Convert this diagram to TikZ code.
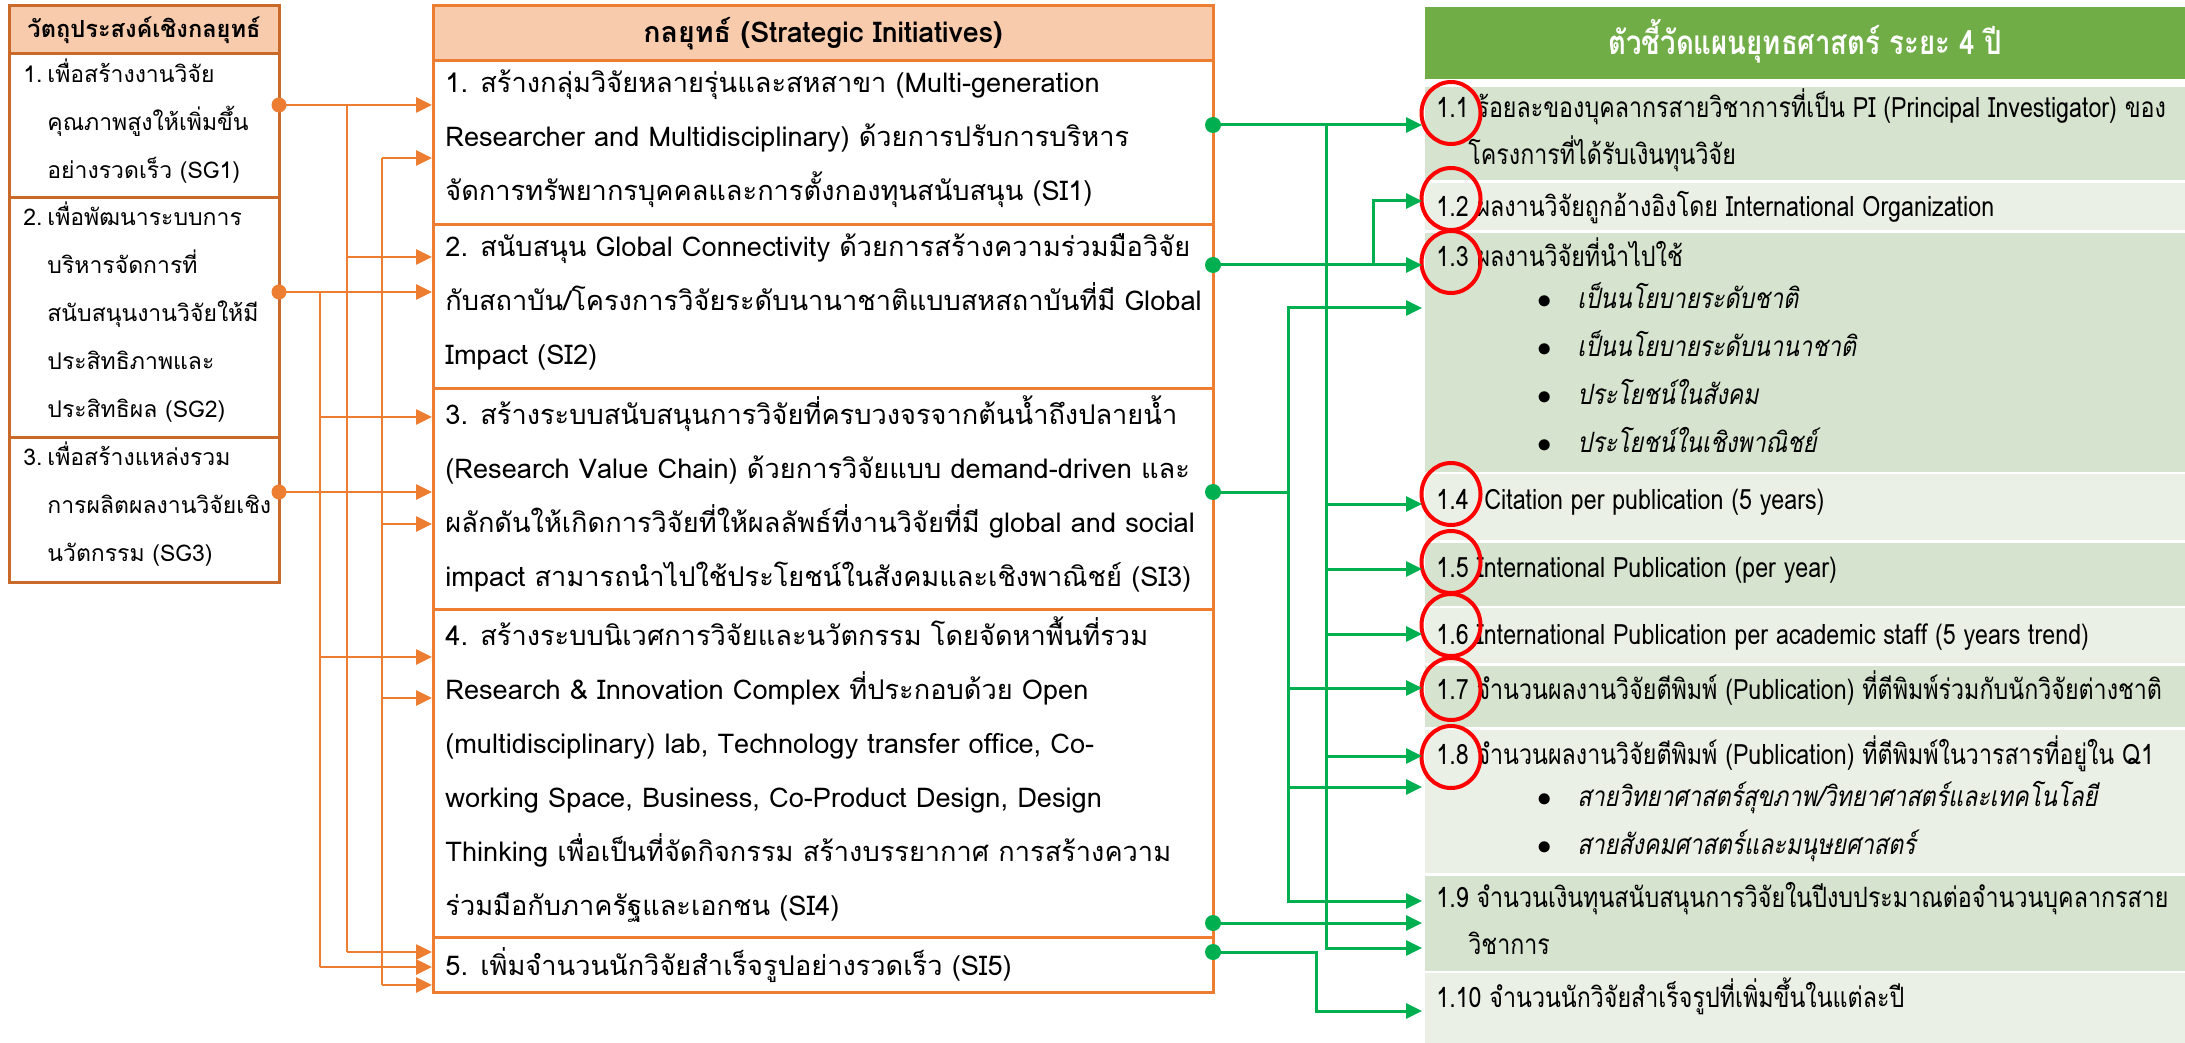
\documentclass[tikz,border=0pt]{standalone}
\usepackage{fontspec}
\setmainfont[Script=Thai]{Loma}
\newfontfamily\kpifont[Script=Thai,FakeStretch=0.83]{Loma}
\newfontfamily\kpiit[Script=Thai,FakeStretch=0.83,FakeSlant=0.2]{Loma}
\usetikzlibrary{shapes,positioning,calc,fit,arrows.meta}
\definecolor{orangeline}{HTML}{ED7D31}
\definecolor{orangefill}{HTML}{F8CBAD}
\definecolor{greenhead}{HTML}{70AD47}
\definecolor{greendark}{HTML}{D6E3CE}
\definecolor{greenlight}{HTML}{EAF0E6}
\definecolor{greenline}{HTML}{00B050}
\newcommand{\nxl}{\\\strut}
\newcommand{\sgnum}[1]{\makebox[12pt][l]{#1}}
\newcommand{\kdot}{\makebox[20pt][l]{$\bullet$}}

\begin{document}
\begin{tikzpicture}[x=0.5pt,y=-0.5pt,
      sgcell/.style = {draw=orangeline!85!black, line width=1.5pt, inner sep=0pt},
      sghd/.style = {sgcell, fill=orangefill},
      sicell/.style = {draw=orangeline, line width=1.5pt, inner sep=0pt},
      sihd/.style = {sicell, fill=orangefill},
      kcell/.style = {inner sep=0pt},
      sgtext/.style = {anchor=west, align=left, inner sep=0pt,
        font=\fontsize{11.5}{24}\selectfont, execute at begin node=\strut},
      sitext/.style = {anchor=west, align=left, inner sep=0pt,
        font=\fontsize{13.6}{27}\selectfont, execute at begin node=\strut},
      ktext/.style = {anchor=west, align=left, inner sep=0pt,
        font=\kpifont\fontsize{14}{23.5}\selectfont, execute at begin node=\strut},
      kbullet/.style = {ktext, font=\kpiit\fontsize{14}{24}\selectfont},
      ring/.style = {ellipse, draw=red, line width=2pt, minimum width=29.5pt,
        minimum height=31pt, inner sep=0pt},
      odot/.style = {circle, fill=orangeline, inner sep=0pt, minimum size=7.5pt},
      gdot/.style = {circle, fill=greenline, inner sep=0pt, minimum size=8pt},
      olink/.style = {draw=orangeline, line width=1.3pt, -{Triangle[length=8pt,width=7.5pt]}},
      obus/.style = {draw=orangeline, line width=0.9pt},
      glink/.style = {draw=greenline, line width=1.5pt, -{Triangle[length=8pt,width=7.5pt]}},
      gline/.style = {draw=greenline, line width=1.5pt}
      ]
      \useasboundingbox (0,0) rectangle (2185,1043);

      \node[sghd, fit={(9,6) (279,54)}] (sgh) {};
      \node[sgcell, fit={(9,54) (279,198)}] (sg1) {};
      \node[sgcell, fit={(9,198) (279,437)}] (sg2) {};
      \node[sgcell, fit={(9,437) (279,582)}] (sg3) {};
      \node[font=\bfseries\fontsize{11.8}{14}\selectfont] (sght) at (sgh) {วัตถุประสงค์เชิงกลยุทธ์};
      \node[sgtext] (sg1t) at (23,126) {\sgnum{1.}เพื่อสร้างงานวิจัย\nxl\hspace*{12pt}คุณภาพสูงให้เพิ่มขึ้น\nxl\hspace*{12pt}อย่างรวดเร็ว (SG1)};
      \node[sgtext] (sg2t) at (23,317) {\sgnum{2.}เพื่อพัฒนาระบบการ\nxl\hspace*{12pt}บริหารจัดการที่\nxl\hspace*{12pt}สนับสนุนงานวิจัยให้มี\nxl\hspace*{12pt}ประสิทธิภาพและ\nxl\hspace*{12pt}ประสิทธิผล (SG2)};
      \node[sgtext] (sg3t) at (23,509) {\sgnum{3.}เพื่อสร้างแหล่งรวม\nxl\hspace*{12pt}การผลิตผลงานวิจัยเชิง\nxl\hspace*{12pt}นวัตกรรม (SG3)};

      \node[sihd, fit={(433,6) (1213,61)}] (sih) {};
      \node[sicell, fit={(433,61) (1213,225)}] (si1) {};
      \node[sicell, fit={(433,225) (1213,388)}] (si2) {};
      \node[sicell, fit={(433,388) (1213,609)}] (si3) {};
      \node[sicell, fit={(433,609) (1213,937)}] (si4) {};
      \node[sicell, fit={(433,937) (1213,992)}] (si5) {};
      \node[font=\bfseries\fontsize{14.3}{16}\selectfont] (siht) at (sih) {กลยุทธ์ (Strategic Initiatives)};
      \node[sitext] (si1t) at (445,143.5) {1. สร้างกลุ่มวิจัยหลายรุ่นและสหสาขา (Multi-generation\nxl Researcher and Multidisciplinary) ด้วยการปรับการบริหาร\nxl จัดการทรัพยากรบุคคลและการตั้งกองทุนสนับสนุน (SI1)};
      \node[sitext] (si2t) at (445,307.5) {2. สนับสนุน Global Connectivity ด้วยการสร้างความร่วมมือวิจัย\nxl กับสถาบัน/โครงการวิจัยระดับนานาชาติแบบสหสถาบันที่มี Global\nxl Impact (SI2)};
      \node[sitext] (si3t) at (445,499) {3. สร้างระบบสนับสนุนการวิจัยที่ครบวงจรจากต้นน้ำถึงปลายน้ำ\nxl (Research Value Chain) ด้วยการวิจัยแบบ demand-driven และ\nxl ผลักดันให้เกิดการวิจัยที่ให้ผลลัพธ์ที่งานวิจัยที่มี global and social\nxl impact สามารถนำไปใช้ประโยชน์ในสังคมและเชิงพาณิชย์ (SI3)};
      \node[sitext] (si4t) at (445,774) {4. สร้างระบบนิเวศการวิจัยและนวัตกรรม โดยจัดหาพื้นที่รวม\nxl Research \& Innovation Complex ที่ประกอบด้วย Open\nxl (multidisciplinary) lab, Technology transfer office, Co-\nxl working Space, Business, Co-Product Design, Design\nxl Thinking เพื่อเป็นที่จัดกิจกรรม สร้างบรรยากาศ การสร้างความ\nxl ร่วมมือกับภาครัฐและเอกชน (SI4)};
      \node[sitext] (si5t) at (445,965) {5. เพิ่มจำนวนนักวิจัยสำเร็จรูปอย่างรวดเร็ว (SI5)};

      \node[kcell, fill=greenhead, fit={(1425,7) (2185,79)}] (kh) {};
      \node[kcell, fill=greendark, fit={(1425,87) (2185,180)}] (k11) {};
      \node[kcell, fill=greenlight, fit={(1425,183) (2185,230)}] (k12) {};
      \node[kcell, fill=greendark, fit={(1425,233) (2185,472)}] (k13) {};
      \node[kcell, fill=greenlight, fit={(1425,474) (2185,540)}] (k14) {};
      \node[kcell, fill=greendark, fit={(1425,543) (2185,606)}] (k15) {};
      \node[kcell, fill=greenlight, fit={(1425,608) (2185,663)}] (k16) {};
      \node[kcell, fill=greendark, fit={(1425,666) (2185,727)}] (k17) {};
      \node[kcell, fill=greenlight, fit={(1425,730) (2185,873)}] (k18) {};
      \node[kcell, fill=greendark, fit={(1425,876) (2185,971)}] (k19) {};
      \node[kcell, fill=greenlight, fit={(1425,973) (2185,1043)}] (k110) {};
      \node[text=white, font=\kpifont\bfseries\fontsize{16.6}{20}\selectfont] (kht) at (1805,41) {ตัวชี้วัดแผนยุทธศาสตร์ ระยะ 4 ปี};
      \node[ktext] (k11t) at (1436,133.5) {1.1 ร้อยละของบุคลากรสายวิชาการที่เป็น PI (Principal Investigator) ของ\nxl\hspace*{16pt}โครงการที่ได้รับเงินทุนวิจัย};
      \node[ktext] (k12t) at (1436,207) {1.2 ผลงานวิจัยถูกอ้างอิงโดย International Organization};
      \node[ktext] (k13t) at (1436,257) {1.3 ผลงานวิจัยที่นำไปใช้};
      \node[kbullet] (k13b) at (1537,375) {\kdot เป็นนโยบายระดับชาติ\nxl\kdot เป็นนโยบายระดับนานาชาติ\nxl\kdot ประโยชน์ในสังคม\nxl\kdot ประโยชน์ในเชิงพาณิชย์};
      \node[ktext] (k14t) at (1436,500) {1.4~ Citation per publication (5 years)};
      \node[ktext] (k15t) at (1436,568) {1.5 International Publication (per year)};
      \node[ktext] (k16t) at (1436,635) {1.6 International Publication per academic staff (5 years trend)};
      \node[ktext] (k17t) at (1436,690) {1.7 จำนวนผลงานวิจัยตีพิมพ์ (Publication) ที่ตีพิมพ์ร่วมกับนักวิจัยต่างชาติ};
      \node[ktext] (k18t) at (1436,755) {1.8 จำนวนผลงานวิจัยตีพิมพ์ (Publication) ที่ตีพิมพ์ในวารสารที่อยู่ใน Q1};
      \node[kbullet] (k18b) at (1537,825.5) {\kdot สายวิทยาศาสตร์สุขภาพ/วิทยาศาสตร์และเทคโนโลยี\nxl\kdot สายสังคมศาสตร์และมนุษยศาสตร์};
      \node[ktext] (k19t) at (1436,925) {1.9 จำนวนเงินทุนสนับสนุนการวิจัยในปีงบประมาณต่อจำนวนบุคลากรสาย\nxl\hspace*{16pt}วิชาการ};
      \node[ktext] (k110t) at (1436,998) {1.10 จำนวนนักวิจัยสำเร็จรูปที่เพิ่มขึ้นในแต่ละปี};

      \node[ring] (r11) at (1451,113) {};
      \node[ring] (r12) at (1451,199) {};
      \node[ring] (r13) at (1451,262) {};
      \node[ring] (r14) at (1451,494) {};
      \node[ring] (r15) at (1451,562) {};
      \node[ring] (r16) at (1451,625) {};
      \node[ring] (r17) at (1451,689) {};
      \node[ring] (r18) at (1451,757) {};

      \coordinate (o1) at (279,105);
      \coordinate (o2) at (279,292);
      \coordinate (o3) at (279,492);
      \coordinate (ob1) at (347,105);
      \coordinate (ob2) at (320,292);
      \coordinate (ob3) at (382,492);
      \coordinate (i11) at (432,105);
      \coordinate (i12) at (432,158);
      \coordinate (i21) at (432,257);
      \coordinate (i22) at (432,292);
      \coordinate (i31) at (432,417);
      \coordinate (i32) at (432,492);
      \coordinate (i33) at (432,524);
      \coordinate (i41) at (432,657);
      \coordinate (i42) at (432,698);
      \coordinate (i51) at (432,952);
      \coordinate (i52) at (432,967);
      \coordinate (i53) at (432,985);
      \draw[obus] (ob1) -- (ob1 |- i51);
      \draw[obus] (ob2) -- (ob2 |- i52);
      \draw[obus] (ob3 |- i12) -- (ob3 |- i53);
      \draw[olink] (o1) -- (i11);
      \draw[olink] (o2) -- (i22);
      \draw[olink] (o3) -- (i32);
      \draw[olink] (ob1 |- i21) -- (i21);
      \draw[olink] (ob1 |- i51) -- (i51);
      \draw[olink] (ob2 |- i31) -- (i31);
      \draw[olink] (ob2 |- i41) -- (i41);
      \draw[olink] (ob2 |- i52) -- (i52);
      \draw[olink] (ob3 |- i12) -- (i12);
      \draw[olink] (ob3 |- i33) -- (i33);
      \draw[olink] (ob3 |- i42) -- (i42);
      \draw[olink] (ob3 |- i53) -- (i53);
      \node[odot] (od1) at (o1) {};
      \node[odot] (od2) at (o2) {};
      \node[odot] (od3) at (o3) {};

      \coordinate (g1) at (1213,125);
      \coordinate (g2) at (1213,265);
      \coordinate (g3) at (1213,492);
      \coordinate (g4) at (1213,923);
      \coordinate (g5) at (1213,952);
      \coordinate (gb1) at (1326,125);
      \coordinate (gb2) at (1373,265);
      \coordinate (gb3) at (1288,492);
      \coordinate (gb5) at (1316,952);
      \coordinate (e11) at (1422,125);
      \coordinate (e12) at (1422,201);
      \coordinate (e13) at (1422,265);
      \coordinate (e13b) at (1422,308);
      \coordinate (e14) at (1422,504);
      \coordinate (e15) at (1422,569);
      \coordinate (e16) at (1422,634);
      \coordinate (e17) at (1422,688);
      \coordinate (e18) at (1422,756);
      \coordinate (e18b) at (1422,787);
      \coordinate (e19) at (1422,901);
      \coordinate (e19a) at (1422,923);
      \coordinate (e19b) at (1422,948);
      \coordinate (e110) at (1422,1011);
      \draw[glink] (g1) -- (e11);
      \draw[glink] (gb1) |- (e14);
      \draw[glink] (gb1) |- (e15);
      \draw[glink] (gb1) |- (e16);
      \draw[glink] (gb1) |- (e18);
      \draw[glink] (gb1) |- (e19b);
      \draw[glink] (g2) -- (e13);
      \draw[glink] (gb2) |- (e12);
      \draw[gline] (g3) -- (gb3);
      \draw[glink] (gb3) |- (e13b);
      \draw[glink] (gb3) |- (e17);
      \draw[glink] (gb3) |- (e18b);
      \draw[glink] (gb3) |- (e19);
      \draw[glink] (g4) -- (e19a);
      \draw[glink] (g5) -- (gb5) |- (e110);
      \node[gdot] (gd1) at (g1) {};
      \node[gdot] (gd2) at (g2) {};
      \node[gdot] (gd3) at (g3) {};
      \node[gdot] (gd4) at (g4) {};
      \node[gdot] (gd5) at (g5) {};
    \end{tikzpicture}
\end{document}
